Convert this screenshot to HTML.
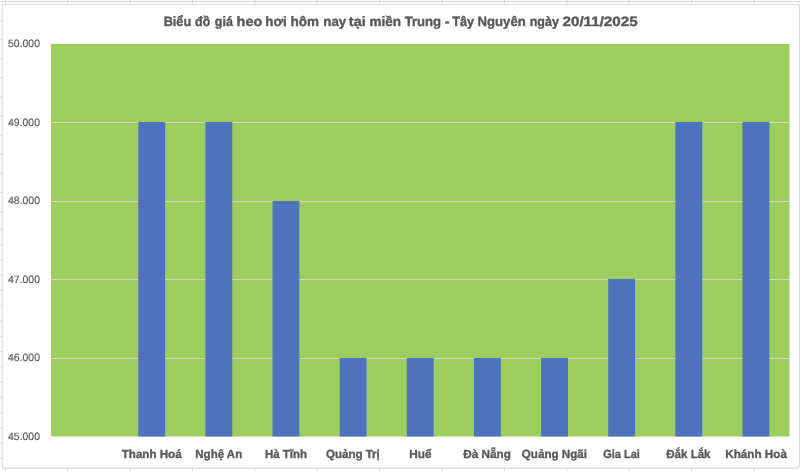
<!DOCTYPE html>
<html><head><meta charset="utf-8"><style>
html,body{margin:0;padding:0;background:#fff;}
body{width:800px;height:471px;overflow:hidden;}
svg{display:block;}
.g{stroke:#d8d8d8;stroke-width:1;}
text{font-family:"Liberation Sans",sans-serif;fill:#595959;text-rendering:geometricPrecision;}
.tx{filter:blur(0.3px);}
.yl{font-size:10.6px;stroke:#595959;stroke-width:0.15px;}
.xl{font-size:11.8px;font-weight:bold;stroke:#595959;stroke-width:0.35px;}
.tt{font-size:13.5px;font-weight:bold;stroke:#595959;stroke-width:0.4px;}
</style></head><body>
<svg width="800" height="471" viewBox="0 0 800 471">
<line x1="0" y1="1.50" x2="800" y2="1.50" class="g"/>
<line x1="0" y1="20.60" x2="800" y2="20.60" class="g"/>
<line x1="0" y1="39.70" x2="800" y2="39.70" class="g"/>
<line x1="0" y1="58.80" x2="800" y2="58.80" class="g"/>
<line x1="0" y1="77.90" x2="800" y2="77.90" class="g"/>
<line x1="0" y1="97.00" x2="800" y2="97.00" class="g"/>
<line x1="0" y1="116.10" x2="800" y2="116.10" class="g"/>
<line x1="0" y1="135.20" x2="800" y2="135.20" class="g"/>
<line x1="0" y1="154.30" x2="800" y2="154.30" class="g"/>
<line x1="0" y1="173.40" x2="800" y2="173.40" class="g"/>
<line x1="0" y1="192.50" x2="800" y2="192.50" class="g"/>
<line x1="0" y1="211.60" x2="800" y2="211.60" class="g"/>
<line x1="0" y1="229.30" x2="800" y2="229.30" class="g"/>
<line x1="0" y1="244.58" x2="800" y2="244.58" class="g"/>
<line x1="0" y1="259.86" x2="800" y2="259.86" class="g"/>
<line x1="0" y1="275.14" x2="800" y2="275.14" class="g"/>
<line x1="0" y1="290.42" x2="800" y2="290.42" class="g"/>
<line x1="0" y1="305.70" x2="800" y2="305.70" class="g"/>
<line x1="0" y1="320.98" x2="800" y2="320.98" class="g"/>
<line x1="0" y1="336.26" x2="800" y2="336.26" class="g"/>
<line x1="0" y1="351.54" x2="800" y2="351.54" class="g"/>
<line x1="0" y1="366.82" x2="800" y2="366.82" class="g"/>
<line x1="0" y1="382.10" x2="800" y2="382.10" class="g"/>
<line x1="0" y1="397.38" x2="800" y2="397.38" class="g"/>
<line x1="0" y1="412.66" x2="800" y2="412.66" class="g"/>
<line x1="0" y1="427.94" x2="800" y2="427.94" class="g"/>
<line x1="0" y1="443.22" x2="800" y2="443.22" class="g"/>
<line x1="0" y1="458.50" x2="800" y2="458.50" class="g"/>
<line x1="5.30" y1="0" x2="5.30" y2="471" class="g"/>
<line x1="67.70" y1="0" x2="67.70" y2="471" class="g"/>
<line x1="130.10" y1="0" x2="130.10" y2="471" class="g"/>
<line x1="192.50" y1="0" x2="192.50" y2="471" class="g"/>
<line x1="254.90" y1="0" x2="254.90" y2="471" class="g"/>
<line x1="317.30" y1="0" x2="317.30" y2="471" class="g"/>
<line x1="379.70" y1="0" x2="379.70" y2="471" class="g"/>
<line x1="442.10" y1="0" x2="442.10" y2="471" class="g"/>
<line x1="504.50" y1="0" x2="504.50" y2="471" class="g"/>
<line x1="566.90" y1="0" x2="566.90" y2="471" class="g"/>
<line x1="629.30" y1="0" x2="629.30" y2="471" class="g"/>
<line x1="691.70" y1="0" x2="691.70" y2="471" class="g"/>
<line x1="754.10" y1="0" x2="754.10" y2="471" class="g"/>
<rect x="2.2" y="4.5" width="797.2" height="463.6" rx="1.5" fill="#ffffff" stroke="#d9d9d9" stroke-width="1.2"/>
<rect x="51.0" y="44.0" width="738.50" height="392.50" fill="#9ecd5f"/>
<line x1="51.0" y1="122.50" x2="789.5" y2="122.50" stroke="#cfd8c0" stroke-width="1"/>
<line x1="51.0" y1="201.50" x2="789.5" y2="201.50" stroke="#cfd8c0" stroke-width="1"/>
<line x1="51.0" y1="279.50" x2="789.5" y2="279.50" stroke="#cfd8c0" stroke-width="1"/>
<line x1="51.0" y1="358.50" x2="789.5" y2="358.50" stroke="#cfd8c0" stroke-width="1"/>
<rect x="138.28" y="122.00" width="26.85" height="314.50" fill="#4e72be"/>
<rect x="205.41" y="122.00" width="26.85" height="314.50" fill="#4e72be"/>
<rect x="272.55" y="201.00" width="26.85" height="235.50" fill="#4e72be"/>
<rect x="339.69" y="358.00" width="26.85" height="78.50" fill="#4e72be"/>
<rect x="406.82" y="358.00" width="26.85" height="78.50" fill="#4e72be"/>
<rect x="473.96" y="358.00" width="26.85" height="78.50" fill="#4e72be"/>
<rect x="541.10" y="358.00" width="26.85" height="78.50" fill="#4e72be"/>
<rect x="608.23" y="279.00" width="26.85" height="157.50" fill="#4e72be"/>
<rect x="675.37" y="122.00" width="26.85" height="314.50" fill="#4e72be"/>
<rect x="742.50" y="122.00" width="26.85" height="314.50" fill="#4e72be"/>
<g class="tx">
<text x="40.0" y="46.70" text-anchor="end" class="yl" textLength="32" lengthAdjust="spacingAndGlyphs">50.000</text>
<text x="40.0" y="125.55" text-anchor="end" class="yl" textLength="32" lengthAdjust="spacingAndGlyphs">49.000</text>
<text x="40.0" y="203.55" text-anchor="end" class="yl" textLength="32" lengthAdjust="spacingAndGlyphs">48.000</text>
<text x="40.0" y="282.55" text-anchor="end" class="yl" textLength="32" lengthAdjust="spacingAndGlyphs">47.000</text>
<text x="40.0" y="360.55" text-anchor="end" class="yl" textLength="32" lengthAdjust="spacingAndGlyphs">46.000</text>
<text x="40.0" y="439.70" text-anchor="end" class="yl" textLength="32" lengthAdjust="spacingAndGlyphs">45.000</text>
<text x="151.70" y="457.7" text-anchor="middle" class="xl" textLength="59.8" lengthAdjust="spacingAndGlyphs">Thanh Hoá</text>
<text x="218.75" y="457.7" text-anchor="middle" class="xl" textLength="46.9" lengthAdjust="spacingAndGlyphs">Nghệ An</text>
<text x="286.00" y="457.7" text-anchor="middle" class="xl" textLength="42.1" lengthAdjust="spacingAndGlyphs">Hà Tĩnh</text>
<text x="352.90" y="457.7" text-anchor="middle" class="xl" textLength="53.8" lengthAdjust="spacingAndGlyphs">Quảng Trị</text>
<text x="420.40" y="457.7" text-anchor="middle" class="xl" textLength="22.3" lengthAdjust="spacingAndGlyphs">Huế</text>
<text x="487.10" y="457.7" text-anchor="middle" class="xl" textLength="47.6" lengthAdjust="spacingAndGlyphs">Đà Nẵng</text>
<text x="554.40" y="457.7" text-anchor="middle" class="xl" textLength="65.2" lengthAdjust="spacingAndGlyphs">Quảng Ngãi</text>
<text x="621.50" y="457.7" text-anchor="middle" class="xl" textLength="36.7" lengthAdjust="spacingAndGlyphs">Gia Lai</text>
<text x="688.40" y="457.7" text-anchor="middle" class="xl" textLength="44.2" lengthAdjust="spacingAndGlyphs">Đắk Lắk</text>
<text x="756.10" y="457.7" text-anchor="middle" class="xl" textLength="61.6" lengthAdjust="spacingAndGlyphs">Khánh Hoà</text>
<text x="163.70" y="26.0" class="tt" textLength="27.50" lengthAdjust="spacingAndGlyphs">Biểu</text>
<text x="195.10" y="26.0" class="tt" textLength="15.20" lengthAdjust="spacingAndGlyphs">đồ</text>
<text x="214.80" y="26.0" class="tt" textLength="18.10" lengthAdjust="spacingAndGlyphs">giá</text>
<text x="236.60" y="26.0" class="tt" textLength="25.60" lengthAdjust="spacingAndGlyphs">heo</text>
<text x="265.30" y="26.0" class="tt" textLength="21.50" lengthAdjust="spacingAndGlyphs">hơi</text>
<text x="290.50" y="26.0" class="tt" textLength="28.50" lengthAdjust="spacingAndGlyphs">hôm</text>
<text x="323.30" y="26.0" class="tt" textLength="23.00" lengthAdjust="spacingAndGlyphs">nay</text>
<text x="348.80" y="26.0" class="tt" textLength="17.00" lengthAdjust="spacingAndGlyphs">tại</text>
<text x="369.50" y="26.0" class="tt" textLength="31.50" lengthAdjust="spacingAndGlyphs">miền</text>
<text x="404.70" y="26.0" class="tt" textLength="36.40" lengthAdjust="spacingAndGlyphs">Trung</text>
<text x="444.70" y="26.0" class="tt" textLength="4.70" lengthAdjust="spacingAndGlyphs">-</text>
<text x="452.30" y="26.0" class="tt" textLength="21.70" lengthAdjust="spacingAndGlyphs">Tây</text>
<text x="477.60" y="26.0" class="tt" textLength="48.10" lengthAdjust="spacingAndGlyphs">Nguyên</text>
<text x="529.70" y="26.0" class="tt" textLength="29.20" lengthAdjust="spacingAndGlyphs">ngày</text>
<text x="562.50" y="26.0" class="tt" textLength="75.15" lengthAdjust="spacingAndGlyphs">20/11/2025</text>
</g>
</svg>
</body></html>
